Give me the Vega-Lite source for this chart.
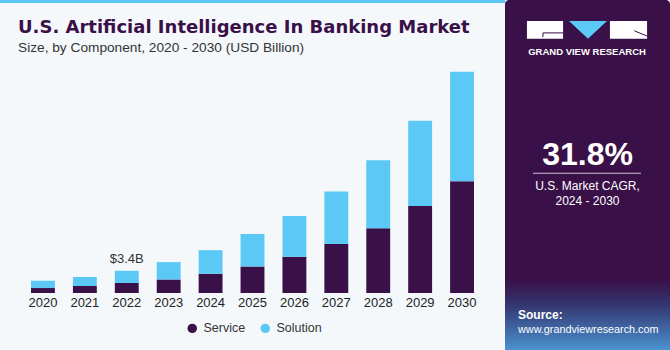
{
  "$schema": "https://vega.github.io/schema/vega-lite/v6.json",
  "padding": 0,
  "background": "#f4f8fb",
  "spacing": 0,
  "config": {
    "view": {"stroke": null},
    "font": "Liberation Sans",
    "text": {"font": "Liberation Sans"}
  },
  "hconcat": [
    {
      "spacing": 16,
      "vconcat": [
        {
          "width": 505,
          "height": 3,
          "view": {"fill": "#5bc8f5", "stroke": null},
          "data": {"values": [{}]},
          "mark": {"type": "rect", "color": "#5bc8f5"},
          "encoding": {}
        },
        {
          "width": 505,
          "height": 222,
          "title": {
            "text": "U.S. Artificial Intelligence In Banking Market",
            "subtitle": "Size, by Component, 2020 - 2030 (USD Billion)",
            "anchor": "start",
            "frame": "group",
            "dx": 18,
            "offset": 16,
            "font": "DejaVu Sans",
            "fontSize": 18,
            "fontWeight": "bold",
            "color": "#3a1048",
            "subtitleFont": "Liberation Sans",
            "subtitleFontSize": 13.7,
            "subtitleColor": "#333333",
            "subtitlePadding": 4
          },
          "data": {
            "values": [
              {"year": "2020", "component": "Service", "value": 0.76},
              {"year": "2020", "component": "Solution", "value": 1.12},
              {"year": "2021", "component": "Service", "value": 1.07},
              {"year": "2021", "component": "Solution", "value": 1.37},
              {"year": "2022", "component": "Service", "value": 1.53},
              {"year": "2022", "component": "Solution", "value": 1.87},
              {"year": "2023", "component": "Service", "value": 2.07},
              {"year": "2023", "component": "Solution", "value": 2.66},
              {"year": "2024", "component": "Service", "value": 2.94},
              {"year": "2024", "component": "Solution", "value": 3.62},
              {"year": "2025", "component": "Service", "value": 4.07},
              {"year": "2025", "component": "Solution", "value": 4.97},
              {"year": "2026", "component": "Service", "value": 5.54},
              {"year": "2026", "component": "Solution", "value": 6.25},
              {"year": "2027", "component": "Service", "value": 7.52},
              {"year": "2027", "component": "Solution", "value": 8.04},
              {"year": "2028", "component": "Service", "value": 9.91},
              {"year": "2028", "component": "Solution", "value": 10.42},
              {"year": "2029", "component": "Service", "value": 13.31},
              {"year": "2029", "component": "Solution", "value": 13.07},
              {"year": "2030", "component": "Service", "value": 17.13},
              {"year": "2030", "component": "Solution", "value": 16.77}
            ]
          },
          "layer": [
            {
              "mark": {"type": "bar"},
              "encoding": {
                "x": {
                  "field": "year",
                  "type": "ordinal",
                  "scale": {"paddingInner": 0.43, "paddingOuter": 0.74},
                  "axis": {
                    "title": null,
                    "domain": false,
                    "ticks": false,
                    "labelAngle": 0,
                    "labelPadding": 3,
                    "labelFont": "Liberation Sans",
                    "labelFontSize": 13,
                    "labelColor": "#222222"
                  }
                },
                "y": {
                  "field": "value",
                  "type": "quantitative",
                  "aggregate": "sum",
                  "stack": "zero",
                  "scale": {"domain": [0, 34], "nice": false},
                  "axis": null
                },
                "color": {
                  "field": "component",
                  "type": "nominal",
                  "scale": {"domain": ["Service", "Solution"], "range": ["#3a1048", "#5bc8f5"]},
                  "legend": {
                    "title": null,
                    "orient": "none",
                    "direction": "horizontal",
                    "legendX": 186,
                    "legendY": 322,
                    "padding": 0,
                    "symbolType": "circle",
                    "symbolSize": 90,
                    "symbolStrokeWidth": 0,
                    "labelFont": "Liberation Sans",
                    "labelFontSize": 12.5,
                    "labelColor": "#333333",
                    "labelOffset": 5,
                    "columnPadding": 13
                  }
                },
                "order": {"field": "component", "sort": "ascending"}
              }
            },
            {
              "data": {"values": [{"year": "2022", "total": 3.4, "label": "$3.4B"}]},
              "mark": {"type": "text", "baseline": "bottom", "dy": -5, "fontSize": 13, "color": "#333333", "font": "Liberation Sans"},
              "encoding": {
                "x": {"field": "year", "type": "ordinal"},
                "y": {"field": "total", "type": "quantitative"},
                "text": {"field": "label"}
              }
            }
          ]
        }
      ]
    },
    {
      "width": 165,
      "height": 350,
      "view": {"fill": "#3a1048", "stroke": null, "cornerRadius": 4},
      "data": {"values": [{}]},
      "layer": [
        {
          "mark": {"type": "rect", "color": {"gradient": "linear", "x1": 0, "y1": 0, "x2": 0, "y2": 1, "stops": [{"offset": 0, "color": "#3a1048"}, {"offset": 0.35, "color": "#343570"}, {"offset": 1, "color": "#4a92d0"}]}},
          "encoding": {
            "x": {"datum": 0, "type": "quantitative", "scale": {"domain": [0, 1]}, "axis": null},
            "x2": {"datum": 1},
            "y": {"datum": 0.8, "type": "quantitative", "scale": {"domain": [0, 1], "reverse": true}, "axis": null},
            "y2": {"datum": 1}
          }
        },
        {
          "mark": {"type": "rect", "color": "#ffffff"},
          "encoding": {
            "x": {"datum": 0.133, "type": "quantitative"},
            "x2": {"datum": 0.352},
            "y": {"datum": 0.06, "type": "quantitative"},
            "y2": {"datum": 0.111}
          }
        },
        {
          "mark": {"type": "rect", "color": "#ffffff"},
          "encoding": {
            "x": {"datum": 0.636, "type": "quantitative"},
            "x2": {"datum": 0.861},
            "y": {"datum": 0.06, "type": "quantitative"},
            "y2": {"datum": 0.111}
          }
        },
        {
          "mark": {"type": "point", "filled": true, "opacity": 1, "color": "#5bc8f5", "strokeWidth": 0, "shape": "M-1,-0.47L1,-0.47L0,0.47Z", "size": 1444},
          "encoding": {
            "x": {"datum": 0.503, "type": "quantitative"},
            "y": {"datum": 0.0855, "type": "quantitative"}
          }
        },
        {
          "mark": {"type": "rule", "color": "#3a1048", "strokeWidth": 1},
          "encoding": {
            "x": {"datum": 0.23, "type": "quantitative"},
            "x2": {"datum": 0.352},
            "y": {"datum": 0.094, "type": "quantitative"},
            "y2": {"datum": 0.094}
          }
        },
        {
          "mark": {"type": "rule", "color": "#3a1048", "strokeWidth": 1},
          "encoding": {
            "x": {"datum": 0.23, "type": "quantitative"},
            "x2": {"datum": 0.23},
            "y": {"datum": 0.094, "type": "quantitative"},
            "y2": {"datum": 0.106}
          }
        },
        {
          "mark": {"type": "rule", "color": "#3a1048", "strokeWidth": 1},
          "encoding": {
            "x": {"datum": 0.784, "type": "quantitative"},
            "x2": {"datum": 0.861},
            "y": {"datum": 0.088, "type": "quantitative"},
            "y2": {"datum": 0.103}
          }
        },
        {
          "mark": {"type": "text", "text": "GRAND VIEW RESEARCH", "color": "#ffffff", "fontSize": 9.5, "fontWeight": "bold", "align": "center", "baseline": "middle"},
          "encoding": {
            "x": {"datum": 0.497, "type": "quantitative"},
            "y": {"datum": 0.148, "type": "quantitative"}
          }
        },
        {
          "mark": {"type": "text", "text": "31.8%", "color": "#ffffff", "fontSize": 32, "fontWeight": "bold", "align": "center", "baseline": "middle"},
          "encoding": {
            "x": {"datum": 0.5, "type": "quantitative"},
            "y": {"datum": 0.443, "type": "quantitative"}
          }
        },
        {
          "mark": {"type": "rule", "color": "#c9c2d2", "strokeWidth": 1},
          "encoding": {
            "x": {"datum": 0.17, "type": "quantitative"},
            "x2": {"datum": 0.824},
            "y": {"datum": 0.495, "type": "quantitative"},
            "y2": {"datum": 0.495}
          }
        },
        {
          "mark": {"type": "text", "text": "U.S. Market CAGR,", "color": "#ffffff", "fontSize": 12, "align": "center", "baseline": "middle"},
          "encoding": {
            "x": {"datum": 0.5, "type": "quantitative"},
            "y": {"datum": 0.531, "type": "quantitative"}
          }
        },
        {
          "mark": {"type": "text", "text": "2024 - 2030", "color": "#ffffff", "fontSize": 12, "align": "center", "baseline": "middle"},
          "encoding": {
            "x": {"datum": 0.5, "type": "quantitative"},
            "y": {"datum": 0.574, "type": "quantitative"}
          }
        },
        {
          "mark": {"type": "text", "text": "Source:", "color": "#ffffff", "fontSize": 12, "fontWeight": "bold", "align": "left", "baseline": "middle"},
          "encoding": {
            "x": {"datum": 0.079, "type": "quantitative"},
            "y": {"datum": 0.9, "type": "quantitative"}
          }
        },
        {
          "mark": {"type": "text", "text": "www.grandviewresearch.com", "color": "#ffffff", "fontSize": 10.8, "align": "left", "baseline": "middle"},
          "encoding": {
            "x": {"datum": 0.079, "type": "quantitative"},
            "y": {"datum": 0.943, "type": "quantitative"}
          }
        }
      ]
    }
  ]
}
